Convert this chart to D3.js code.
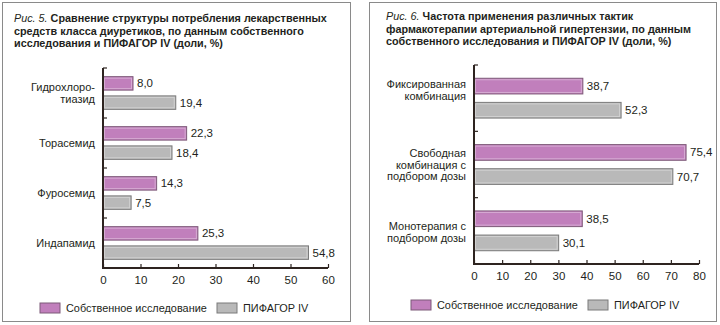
<!DOCTYPE html>
<html><head><meta charset="utf-8">
<script src="https://cdn.jsdelivr.net/npm/d3@7"></script>
<style>body{margin:0;background:#fff}svg{display:block}text{font-family:"Liberation Sans",Arial,sans-serif;fill:#231f20}</style>
</head><body><svg id="c" width="720" height="325"></svg>
<script>
// Chart 1 data
const cats1 = [["Гидрохлоро-","тиазид"],["Торасемид"],["Фуросемид"],["Индапамид"]];
const own1 = [8.0, 22.3, 14.3, 25.3];
const pif1 = [19.4, 18.4, 7.5, 54.8];
const ticks1 = [0,10,20,30,40,50,60];
// Chart 2 data
const cats2 = [["Фиксированная","комбинация"],["Свободная","комбинация с","подбором дозы"],["Монотерапия с","подбором дозы"]];
const own2 = [38.7, 75.4, 38.5];
const pif2 = [52.3, 70.7, 30.1];
const ticks2 = [0,10,20,30,40,50,60,70,80];
const title1 = ["Рис. 5.", "Сравнение структуры потребления лекарственных", "средств класса диуретиков, по данным собственного", "исследования и ПИФАГОР IV (доли, %)"];
const title2 = ["Рис. 6.", "Частота применения различных тактик", "фармакотерапии артериальной гипертензии, по данным", "собственного исследования и ПИФАГОР IV (доли, %)"];
const seriesNames = ["Собственное исследование", "ПИФАГОР IV"];

const PINK="#c17fbc", PINKS="#7d5a78", GRAY="#b9b9b9", GRAYS="#7a7a7a", AX="#2e2420";
const svg = d3.select("#c");
const fmt = v => d3.format(".1f")(v).replace(".", ",");

function panel(o){
  const g = svg.append("g");
  g.append("rect").attr("x",o.bx).attr("y",2.5).attr("width",o.bw).attr("height",319)
    .attr("fill","none").attr("stroke","#8a8a8a").attr("stroke-width",1);
  // title
  const t = g.append("text").attr("x",o.tx).attr("y",o.ty).attr("font-size",10.8);
  o.title.slice(1).forEach((line,i)=>{
    const ts = t.append("tspan").attr("x",o.tx).attr("dy", i===0?0:12.5);
    if(i===0){ ts.append("tspan").attr("font-style","italic").text(o.title[0]+" "); }
    ts.append("tspan").attr("font-weight","bold").text(line);
  });
  const x = d3.scaleLinear().domain([0,o.max]).range([o.x0,o.x1]);
  const y = d3.scaleBand().domain(d3.range(o.cats.length)).range([o.y0,o.y1]);
  const inner = d3.scaleBand().domain([0,1]).range([0,y.bandwidth()]).paddingInner(o.pi).paddingOuter(o.po);
  const data = [];
  o.cats.forEach((c,i)=>{ data.push({i,s:0,v:o.own[i]}); data.push({i,s:1,v:o.pif[i]}); });
  const bars = g.selectAll(".b").data(data).enter().append("g");
  bars.append("rect").attr("x",x(0)).attr("y",d=>y(d.i)+inner(d.s)).attr("width",d=>x(d.v)-x(0))
    .attr("height",inner.bandwidth()).attr("fill",d=>d.s?GRAY:PINK).attr("stroke",d=>d.s?GRAYS:PINKS).attr("stroke-width",1);
  bars.append("rect").attr("x",x(0)+1.5).attr("y",d=>y(d.i)+inner(d.s)+1.5).attr("width",d=>Math.max(0,x(d.v)-x(0)-3))
    .attr("height",inner.bandwidth()-3).attr("fill","none").attr("stroke","#fff").attr("stroke-opacity",0.35).attr("stroke-width",1);
  bars.append("text").attr("x",d=>x(d.v)+4).attr("y",d=>y(d.i)+inner(d.s)+inner.bandwidth()/2+4)
    .attr("font-size",11.5).text(d=>fmt(d.v));
  // category labels
  o.cats.forEach((c,i)=>{
    const cy = y(i)+y.bandwidth()/2 + (o.lshift?o.lshift[i]:0);
    const tt = g.append("text").attr("text-anchor","end").attr("font-size",11);
    c.forEach((line,k)=>{
      tt.append("tspan").attr("x",o.x0-8).attr("y",cy+4+(k-(c.length-1)/2)*o.lh).text(line);
    });
  });
  // axes
  const xa = g.append("g").attr("transform",`translate(0,${o.y1})`)
    .call(d3.axisBottom(x).tickValues(o.ticks).tickSize(-4).tickPadding(8).tickFormat(d3.format("d")));
  xa.select(".domain").remove();
  xa.selectAll("line").attr("stroke",AX).attr("stroke-width",1.2);
  xa.selectAll("text").attr("font-size",11.5).attr("fill","#231f20").attr("font-family",'"Liberation Sans",Arial,sans-serif');
  const ya = g.append("g").attr("transform",`translate(${o.x0},0)`)
    .call(d3.axisLeft(y).tickValues([]).tickSize(0));
  ya.select(".domain").remove();
  g.selectAll(".sep").data(d3.range(o.cats.length)).enter().append("line")
    .attr("x1",o.x0).attr("x2",o.x0+4).attr("y1",d=>y(d)).attr("y2",d=>y(d)).attr("stroke",AX).attr("stroke-width",1.2);
  g.append("path").attr("d",`M${o.x0},${o.y0}V${o.y1}H${o.x1}`).attr("fill","none").attr("stroke",AX).attr("stroke-width",2);
  // legend
  const lg = g.append("g");
  [0,1].forEach(s=>{
    lg.append("rect").attr("x",o.lx[s]).attr("y",o.ly).attr("width",20).attr("height",10)
      .attr("fill",s?GRAY:PINK).attr("stroke",s?GRAYS:PINKS);
    lg.append("text").attr("x",o.lx[s]+26).attr("y",o.ly+9).attr("font-size",10.9).text(seriesNames[s]);
  });
}

panel({bx:2.5,bw:348,tx:14,ty:22,title:title1,cats:cats1,own:own1,pif:pif1,ticks:ticks1,max:60,
  x0:103,x1:328,y0:68,y1:268,pi:0.3,po:0.45,lh:12,lx:[40,217],ly:303});
panel({bx:369.5,bw:347,tx:386,ty:20,title:title2,cats:cats2,own:own2,pif:pif2,ticks:ticks2,max:80,
  x0:474,x1:699,y0:65,y1:264,pi:0.35,po:0.55,lh:11.5,lshift:[-8,0,1],lx:[411,588],ly:300});
</script></body></html>
